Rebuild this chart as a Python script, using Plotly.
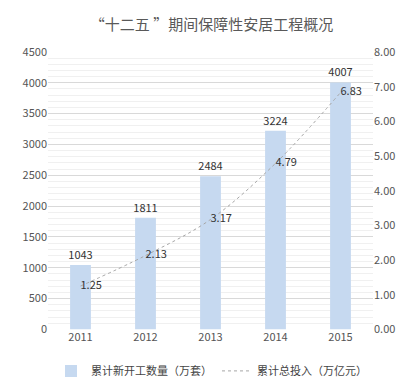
import plotly.graph_objects as go

years = ["2011", "2012", "2013", "2014", "2015"]
units = [1043, 1811, 2484, 3224, 4007]
invest = [1.25, 2.13, 3.17, 4.79, 6.83]
left_ticks = [0, 500, 1000, 1500, 2000, 2500, 3000, 3500, 4000, 4500]
right_ticks = [0, 1, 2, 3, 4, 5, 6, 7, 8]

font_cjk = "Noto Sans CJK SC, DejaVu Sans, sans-serif"

fig = go.Figure()
fig.add_trace(go.Bar(
    x=years, y=units, name="累计新开工数量（万套）",
    marker=dict(color="#c6d9f0", line=dict(width=0)),
    width=0.32,
    text=[str(v) for v in units], textposition="outside",
    textfont=dict(size=11, color="#333333"),
    constraintext="none",
    cliponaxis=False,
))
fig.add_trace(go.Scatter(
    x=years, y=invest, name="累计总投入（万亿元）", yaxis="y2",
    mode="lines+text",
    line=dict(color="#a6a6a6", width=1, dash="dot", shape="spline"),
    text=[f"{v:.2f}" for v in invest], textposition="middle right",
    textfont=dict(size=11, color="#333333"),
    cliponaxis=False,
))

fig.update_layout(
    width=407, height=380,
    margin=dict(l=40, r=42, t=44, b=53),
    paper_bgcolor="white", plot_bgcolor="white",
    font=dict(family=font_cjk, size=11, color="#555555"),
    title=dict(text="“十二五 ”期间保障性安居工程概况", x=0.5, xanchor="center",
               y=0.957, yanchor="middle",
               font=dict(size=15, color="#595959", family=font_cjk)),
    showlegend=True,
    legend=dict(orientation="h", xref="container", yref="container",
                x=0.5, xanchor="center", y=0.045, yanchor="middle",
                font=dict(size=11, color="#444444"), itemwidth=30,
                tracegroupgap=0),
    bargap=0.68,
    xaxis=dict(showgrid=False, showline=False, ticks="", tickfont=dict(size=11, color="#555555")),
    yaxis=dict(range=[0, 4500], tickvals=left_ticks, showline=False, zeroline=False,
               gridcolor="#d9d9d9", gridwidth=1,
               minor=dict(dtick=100, showgrid=True, gridcolor="#f0f0f0", gridwidth=1),
               tickfont=dict(size=11, color="#555555")),
    yaxis2=dict(range=[0, 8], tickvals=right_ticks, ticktext=[f"{v:.2f}" for v in right_ticks],
                overlaying="y", side="right", showgrid=False, zeroline=False, showline=False,
                tickfont=dict(size=11, color="#555555")),
)

fig.write_html("out.html")
